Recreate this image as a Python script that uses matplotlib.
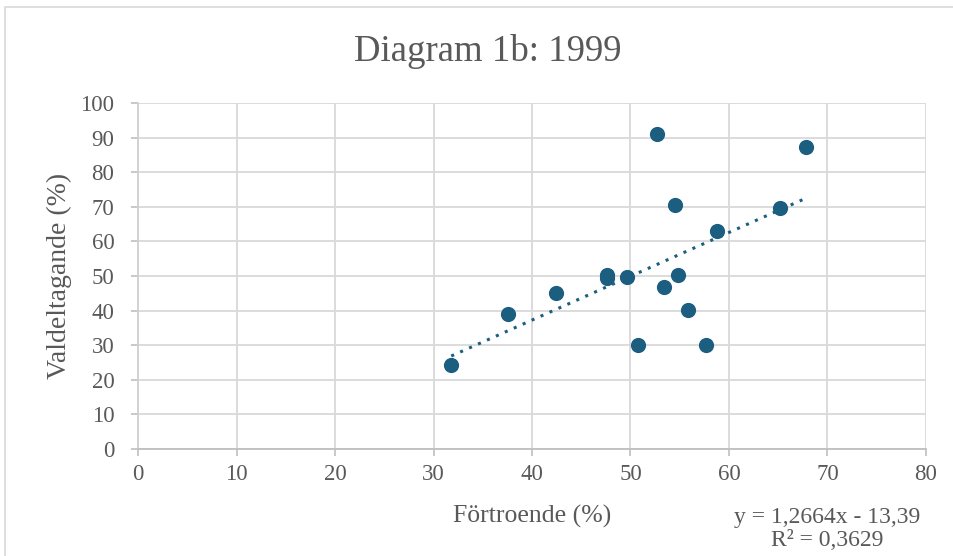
import matplotlib
matplotlib.use("Agg")
import matplotlib.pyplot as plt
from matplotlib.patches import Rectangle
import numpy as np

plt.rcParams['font.family'] = ['Liberation Serif', 'DejaVu Serif']

fortroende = [31.8, 37.6, 42.4, 47.6, 47.6, 49.6, 50.8, 52.7, 53.4, 54.5, 54.8, 55.8, 57.7, 58.8, 65.2, 67.8]
valdeltagande = [24.2, 39.0, 45.1, 50.4, 49.3, 49.7, 30.1, 91.0, 46.8, 70.4, 50.3, 40.1, 30.2, 63.0, 69.8, 87.3]
slope = 1.2664
intercept = -13.39
r2 = 0.3629
xticks = [0, 10, 20, 30, 40, 50, 60, 70, 80]
yticks = [0, 10, 20, 30, 40, 50, 60, 70, 80, 90, 100]

color = '#1b5e80'
txt = '#595959'
grid = '#d9d9d9'

fig = plt.figure(figsize=(9.54, 5.56), dpi=100)
fig.patches.append(Rectangle((0.0055, -0.1), 1.2, 1.087, transform=fig.transFigure,
                             fill=False, edgecolor='#d9d9d9', linewidth=1.2))
ax = fig.add_axes([0.1447, 0.1924, 0.8259, 0.6223])

ax.set_xlim(0, 80)
ax.set_ylim(0, 100)
ax.set_xticks(xticks)
ax.set_yticks(yticks)
ax.grid(True, color=grid, linewidth=1.3)
ax.set_axisbelow(True)
for s in ['top', 'right']:
    ax.spines[s].set_visible(False)
ax.spines['left'].set_color('#d0d0d0')
ax.spines['bottom'].set_color('#bfbfbf')
ax.spines['left'].set_linewidth(1.3)
ax.spines['bottom'].set_linewidth(1.3)
ax.tick_params(axis='both', colors='#bfbfbf', labelcolor=txt, labelsize=16.5, length=5, width=1.2)
ax.tick_params(axis='x', pad=6)
ax.tick_params(axis='y', pad=12)

xs = np.array([min(fortroende), max(fortroende)])
ax.plot(xs, slope * xs + intercept, linestyle=(0, (1, 2.2)), color=color, linewidth=2.2, zorder=2)
ax.scatter(fortroende, valdeltagande, s=120, color=color, zorder=3, linewidths=0)

ax.set_xlabel('Förtroende (%)', fontsize=18.5, color=txt, labelpad=14)
ax.set_ylabel('Valdeltagande (%)', fontsize=20, color=txt, labelpad=6)
fig.text(0.511, 0.908, 'Diagram 1b: 1999', fontsize=26.5, color=txt, ha='center', va='center')

fig.text(0.867, 0.049, 'y = 1,2664x - 13,39\nR² = 0,3629', fontsize=17, color=txt,
         ha='center', va='center', linespacing=1.12)

fig.savefig('out.png', dpi=100)
